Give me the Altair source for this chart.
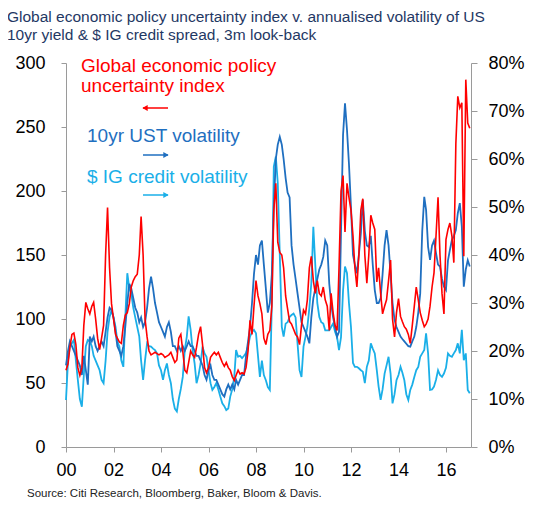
import altair as alt
import pandas as pd

# Global economic policy uncertainty index (left axis), monthly Jan-2000 .. Jan-2017
epu = [
    60, 65, 78, 88, 89, 80, 62, 56, 62, 95, 113, 108,          # 2000
    104, 110, 113, 100, 85, 76, 85, 95, 150, 187, 140, 112,    # 2001
    100, 88, 85, 82, 81, 95, 103, 105, 112, 125, 130, 133,     # 2002
    135, 150, 180, 150, 100, 86, 75, 72, 73, 74, 73, 72,       # 2003
    73, 72, 70, 71, 72, 74, 70, 66, 68, 85, 88, 75,            # 2004
    60, 58, 66, 75, 72, 70, 78, 88, 94, 80, 62, 58,            # 2005
    62, 70, 72, 74, 72, 74, 70, 66, 63, 66, 62, 60,            # 2006
    55, 52, 56, 60, 57, 58, 57, 62, 75, 99, 88, 110,           # 2007
    130, 118, 112, 104, 85, 80, 88, 91, 110, 185, 206, 160,    # 2008
    152, 150, 140, 118, 108, 98, 96, 92, 88, 86, 80, 95,       # 2009
    107, 104, 115, 140, 149, 130, 120, 130, 120, 118, 125, 115,  # 2010
    110, 91, 120, 105, 95, 91, 140, 200, 212, 168, 206, 195,   # 2011
    185, 165, 140, 125, 150, 185, 194, 150, 128, 150, 181, 175,  # 2012
    170, 129, 140, 120, 104, 110, 115, 130, 146, 100, 86, 105,   # 2013
    116, 102, 98, 94, 92, 88, 81, 95, 110, 125, 115, 105,      # 2014
    99, 94, 96, 100, 110, 125, 136, 165, 195, 150, 120, 104,   # 2015
    162, 170, 175, 165, 144, 237, 274, 265, 269, 149, 287, 253,  # 2016
    249,                                                       # 2017
]

# 10yr UST volatility, % (right axis)
ust = [
    17, 20, 22, 21, 20, 19, 18, 17, 15, 19, 16, 13,
    23, 22, 23, 21, 20, 21, 22, 21, 24, 27, 29, 28.5,
    27, 24, 21, 20, 19, 21, 25, 30, 34, 33, 31, 29,
    28, 26, 27, 25, 26, 29, 33, 35.5, 33, 30, 28, 26,
    25, 24, 23, 25, 26, 24, 21, 21, 20, 21, 20, 21,
    20, 21, 22, 21, 21, 20, 19, 19, 18, 17, 15, 14,
    16, 17, 15, 14, 14, 13, 12, 11, 10.5, 12, 13, 12,
    13, 12, 14, 13, 14, 15, 15, 19, 22, 25, 30, 36,
    40, 38, 42, 43, 38, 33, 28, 30, 36, 50, 60, 63,
    64.6, 63, 60, 56, 53, 52, 42, 38, 35, 32, 29, 26,
    25, 24, 23, 21.6, 27, 31, 33, 35, 37, 38, 39.6, 43,
    42, 34, 30, 27, 25, 23, 24, 45, 65, 71.6, 66, 59,
    50, 40, 38, 36.2, 40, 44.5, 51.5, 45, 42, 41.7, 44, 38,
    32.7, 30, 30, 31, 36, 42, 45.2, 42, 36, 30, 26.5, 25,
    24, 23, 22.5, 22, 21.5, 21, 20.9, 22, 23, 25, 28, 32,
    45, 52.1, 49.4, 41.7, 39, 42, 43, 40.4, 38, 37.6, 35, 33.4,
    32.7, 38.9, 41, 43.1, 44, 45.2, 48.7, 50.8, 45.9, 33.4, 37, 38.9,
    37.6,
]

# $ IG credit spread volatility, % (right axis)
ig = [
    9.8, 18, 21, 21.6, 22.3, 18, 14, 10, 8.4, 15, 21, 22.3,
    22, 21, 19, 18, 17, 16, 14, 13.3, 18, 24, 27.1, 28.5,
    27, 25, 22, 20.9, 18, 16.7, 27, 36.2, 33, 32, 29, 27,
    25, 23, 18, 14, 18.1, 21.6, 21, 20.9, 20.5, 20.2, 19.5, 17,
    16, 14, 16, 17.4, 15, 13.3, 10, 8, 7.4, 10, 12.1, 14.6,
    20.2, 23, 27.2, 24.4, 20.2, 17.4, 13.3, 15, 17.4, 20.9, 19.5, 18.8,
    16, 13.3, 11.9, 12.5, 13.3, 12, 10.5, 9.1, 8.5, 7.7, 8, 10.5,
    12, 14.6, 20.2, 18.8, 19, 18.5, 19, 19.6, 21, 23, 24, 24.4,
    23.7, 19, 14.6, 18, 15, 13.9, 12.5, 11.9, 30, 58.4, 60.5, 55,
    40, 25, 23, 25.7, 26, 27.1, 27.5, 27.8, 27, 21.6, 16, 14.6,
    20.9, 23, 25, 29, 34.1, 45.9, 38, 30, 27.1, 26, 25.7, 24.3,
    24.3, 24.3, 25, 25.7, 24, 22.9, 20.2, 22.9, 32.6, 37.6, 36.2, 30,
    25, 17.5, 16.7, 16.7, 16.4, 16, 15.7, 13.3, 16.7, 18, 21.6, 20.5,
    19.5, 16, 12.6, 9.8, 12, 15.3, 17, 18.8, 15.3, 9.1, 11, 13.9,
    15, 16.7, 15.5, 13.9, 11, 9.8, 11.9, 13, 14.6, 16, 16.7, 18.8,
    19.5, 20.2, 23.7, 19.5, 11.9, 12, 12.6, 14, 16, 15, 14.6, 15.3,
    16.5, 19.5, 19, 18.8, 19.5, 20.2, 21.6, 19.5, 24.4, 18.1, 19.5, 11.9,
    11.2,
]

left_ticks = [0, 50, 100, 150, 200, 250, 300]
right_ticks = [0, 10, 20, 30, 40, 50, 60, 70, 80]
year_ticks = list(range(2000, 2017, 2))

dates = pd.date_range("2000-01-01", periods=len(epu), freq="MS")
df = pd.DataFrame({"date": dates, "epu": epu, "ust": ust, "ig": ig})

FONT = "Liberation Sans"
RED = "#ff0000"
DARK = "#1f6fc0"
LIGHT = "#1aafe8"
NAVY = "#1f3864"
AX = "#9a9a9a"

xenc = alt.X(
    "date:T",
    scale=alt.Scale(domain=[alt.DateTime(year=2000, month=1, date=1),
                            alt.DateTime(year=2017, month=1, date=20)]),
    axis=alt.Axis(values=[alt.DateTime(year=y, month=1, date=1) for y in year_ticks],
                  format="%y", title=None, grid=False, labelFontSize=18,
                  labelFont=FONT, labelColor="black", tickSize=5, labelPadding=9,
                  domainColor=AX, tickColor=AX, labelFlush=False),
)

right_axis = alt.Axis(orient="right", values=right_ticks, title=None, grid=False,
                      labelExpr="datum.value + '%'", labelFontSize=18, labelFont=FONT,
                      labelColor="black", tickSize=6, labelPadding=11,
                      domainColor=AX, tickColor=AX)
yright = alt.Scale(domain=[0, 80])

light = alt.Chart(df).mark_line(color=LIGHT, strokeWidth=1.8).encode(
    x=xenc, y=alt.Y("ig:Q", scale=yright, axis=right_axis))
dark = alt.Chart(df).mark_line(color=DARK, strokeWidth=1.8).encode(
    x=xenc, y=alt.Y("ust:Q", scale=yright, axis=right_axis))
blues = alt.layer(light, dark)

red = alt.Chart(df).mark_line(color=RED, strokeWidth=1.6).encode(
    x=xenc,
    y=alt.Y("epu:Q", scale=alt.Scale(domain=[0, 300]),
            axis=alt.Axis(orient="left", values=left_ticks, title=None, grid=False,
                          labelFontSize=18, labelFont=FONT, labelColor="black",
                          tickSize=5, labelPadding=16, domainColor=AX, tickColor=AX)))


def txt(s, x, y, color, size, weight="normal"):
    return alt.Chart(pd.DataFrame({"t": [s]})).mark_text(
        align="left", baseline="alphabetic", font=FONT, fontSize=size,
        color=color, fontWeight=weight).encode(
        x=alt.value(x), y=alt.value(y), text="t:N")


def arrow(x1, x2, y, color, head):
    line = alt.Chart(pd.DataFrame({"a": [0]})).mark_rule(color=color, strokeWidth=1.5).encode(
        x=alt.value(x1), x2=alt.value(x2), y=alt.value(y))
    hx = x1 + 2 if head == "left" else x2 - 2
    tri = alt.Chart(pd.DataFrame({"a": [0]})).mark_point(
        shape="triangle-" + head, filled=True, size=38, color=color, opacity=1,
        strokeWidth=0).encode(x=alt.value(hx), y=alt.value(y))
    return line + tri


notes = [
    txt("Global economic policy uncertainty index v. annualised volatility of US", -59, -41, NAVY, 15.5),
    txt("10yr yield & $ IG credit spread, 3m look-back", -59, -23, NAVY, 15.5),
    txt("Global economic policy", 15, 9, RED, 19),
    txt("uncertainty index", 15, 29, RED, 19),
    arrow(77, 102, 45, RED, "left"),
    txt("10yr UST volatility", 21, 79, DARK, 19),
    arrow(77, 102, 92, DARK, "right"),
    txt("$ IG credit volatility", 21, 120, LIGHT, 19),
    arrow(77, 102, 132, LIGHT, "right"),
    txt("Source: Citi Research, Bloomberg, Baker, Bloom & Davis.", -39, 434, "#222222", 11.5),
]

chart = alt.layer(blues, red, *notes).resolve_scale(y="independent").properties(
    width=405, height=384,
    autosize=alt.AutoSizeParams(type="none"),
    padding={"left": 58, "top": 55, "right": 70, "bottom": 60},
).configure_view(stroke=None)

chart.save("out.html", embed_options={"renderer": "svg", "actions": False})
